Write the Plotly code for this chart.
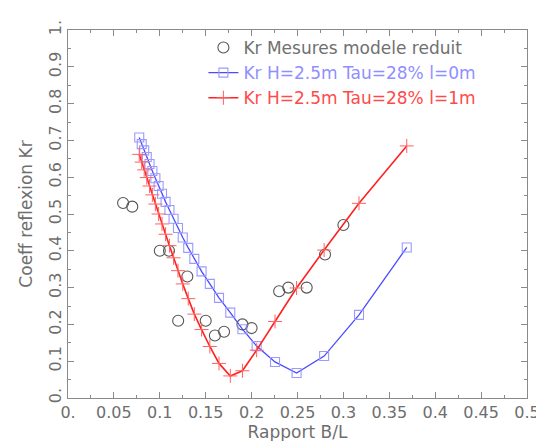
import plotly.graph_objects as go

# Data
ratio_bl = [0.0776, 0.0803, 0.0830, 0.0858, 0.0888, 0.0919, 0.0952, 0.0987, 0.1024,
            0.1063, 0.1105, 0.1150, 0.1198, 0.1250, 0.1310, 0.1376, 0.1455, 0.1545,
            0.1645, 0.1768, 0.1900, 0.2055, 0.2255, 0.2490, 0.2790, 0.3170, 0.3690]
kr_l0 = [0.708, 0.690, 0.673, 0.655, 0.636, 0.617, 0.597, 0.576, 0.555,
         0.533, 0.511, 0.487, 0.462, 0.436, 0.408, 0.378, 0.344, 0.310,
         0.272, 0.232, 0.187, 0.141, 0.098, 0.068, 0.114, 0.226, 0.409]
kr_l1 = [0.662, 0.641, 0.620, 0.599, 0.576, 0.552, 0.527, 0.500, 0.473,
         0.445, 0.414, 0.381, 0.346, 0.310, 0.270, 0.228, 0.186, 0.140,
         0.094, 0.060, 0.074, 0.130, 0.208, 0.299, 0.402, 0.529, 0.685]

meas_bl = [0.06, 0.07, 0.10, 0.11, 0.13, 0.12, 0.15, 0.16, 0.17, 0.19, 0.20,
           0.23, 0.24, 0.26, 0.28, 0.30]
meas_kr = [0.53, 0.52, 0.40, 0.40, 0.33, 0.21, 0.21, 0.17, 0.18, 0.20, 0.19,
           0.29, 0.30, 0.30, 0.39, 0.47]

x_ticks = [0, 0.05, 0.1, 0.15, 0.2, 0.25, 0.3, 0.35, 0.4, 0.45, 0.5]
x_labels = ["0.", "0.05", "0.1", "0.15", "0.2", "0.25", "0.3", "0.35", "0.4", "0.45", "0.5"]
y_ticks = [0, 0.1, 0.2, 0.3, 0.4, 0.5, 0.6, 0.7, 0.8, 0.9, 1.0]
y_labels = ["0.", "0.1", "0.2", "0.3", "0.4", "0.5", "0.6", "0.7", "0.8", "0.9", "1."]

GRAY = "#6e6e6e"
FONT = "DejaVu Sans"

fig = go.Figure()
fig.add_trace(go.Scatter(
    x=meas_bl, y=meas_kr, mode="markers",
    name="<span style='color:#707070'>Kr Mesures modele reduit</span>",
    marker=dict(symbol="circle-open", size=11, color="#555555", line=dict(width=1.1)),
))
fig.add_trace(go.Scatter(
    x=ratio_bl, y=kr_l0, mode="lines+markers",
    name="<span style='color:#8f8fff'>Kr H=2.5m Tau=28% l=0m</span>",
    line=dict(color="#4a4aff", width=1.3),
    marker=dict(symbol="square-open", size=9, color="#9a9aff", line=dict(width=1.1)),
))
fig.add_trace(go.Scatter(
    x=ratio_bl, y=kr_l1, mode="lines+markers",
    name="<span style='color:#ff4a4a'>Kr H=2.5m Tau=28% l=1m</span>",
    line=dict(color="#ff2020", width=1.6),
    marker=dict(symbol="cross-thin-open", size=10, color="#ff6060", line=dict(width=1, color="#ff6060")),
))

axis_common = dict(
    showline=True, linecolor="#8a8a8a", linewidth=1.2, mirror="allticks",
    ticks="inside", ticklen=6, tickcolor="#8a8a8a", tickwidth=1,
    showgrid=False, zeroline=False,
    tickfont=dict(family=FONT, size=16, color=GRAY),
)

fig.update_layout(
    width=544, height=441,
    margin=dict(l=60, r=12, t=15, b=48),
    paper_bgcolor="white", plot_bgcolor="white",
    font=dict(family=FONT, color=GRAY),
    showlegend=True,
    legend=dict(x=0.295, y=1.0, xanchor="left", yanchor="top",
                bgcolor="rgba(0,0,0,0)", borderwidth=0,
                font=dict(family=FONT, size=17, color=GRAY),
                itemwidth=30, tracegroupgap=0),
    xaxis=dict(range=[0, 0.5], tickvals=x_ticks, ticktext=x_labels,
               minor=dict(dtick=0.025, tick0=0, ticks="inside", ticklen=3, tickcolor="#8a8a8a"),
               title=dict(text="Rapport B/L", font=dict(family=FONT, size=17, color=GRAY), standoff=3),
               **axis_common),
    yaxis=dict(range=[0, 1], tickvals=y_ticks, ticktext=y_labels, tickangle=-90,
               minor=dict(dtick=0.05, tick0=0, ticks="inside", ticklen=3, tickcolor="#8a8a8a"),
               title=dict(text="Coeff reflexion Kr", font=dict(family=FONT, size=17, color=GRAY), standoff=8),
               **axis_common),
)

fig.write_html("out.html")
